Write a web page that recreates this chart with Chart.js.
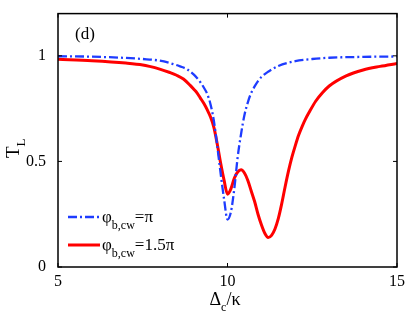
<!DOCTYPE html>
<html>
<head>
<meta charset="utf-8">
<script src="https://cdn.jsdelivr.net/npm/chart.js@4/dist/chart.umd.min.js"></script>
<style>
  html, body { margin: 0; padding: 0; background: #fff; }
  #wrap { width: 409px; height: 317px; }
</style>
</head>
<body>
<div id="wrap"><canvas id="tl-chart"></canvas></div>
<script>
// values
const xTicks = [5, 10, 15]
const yTicks = [0, 0.5, 1]

const blueX = [5, 6, 7, 7.5, 8, 8.4, 8.6, 8.8, 9, 9.1, 9.2, 9.3, 9.4, 9.5, 9.6, 9.7, 9.8, 9.9, 10, 10.1, 10.2, 10.3, 10.4, 10.5, 10.6, 10.7, 10.8, 10.9, 11, 11.2, 11.5, 12, 12.5, 13, 14, 15]
const blueY = [0.998, 0.996, 0.99, 0.985, 0.977, 0.961, 0.95, 0.937, 0.912, 0.895, 0.875, 0.85, 0.82, 0.77, 0.69, 0.57, 0.44, 0.32, 0.225, 0.26, 0.37, 0.52, 0.63, 0.72, 0.78, 0.825, 0.855, 0.88, 0.9, 0.925, 0.952, 0.975, 0.985, 0.991, 0.995, 0.997]

const redX = [5, 6, 7, 7.5, 7.7, 8, 8.3, 8.5, 8.7, 8.9, 9, 9.1, 9.2, 9.3, 9.4, 9.5, 9.6, 9.7, 9.8, 9.9, 10, 10.1, 10.2, 10.3, 10.4, 10.5, 10.6, 10.7, 10.8, 10.9, 11, 11.1, 11.2, 11.3, 11.4, 11.5, 11.6, 11.7, 11.8, 11.9, 12, 12.1, 12.2, 12.3, 12.4, 12.6, 12.8, 13, 13.5, 14, 14.5, 15]
const redY = [0.984, 0.977, 0.966, 0.957, 0.95, 0.937, 0.921, 0.908, 0.89, 0.86, 0.843, 0.825, 0.8, 0.775, 0.745, 0.71, 0.66, 0.58, 0.49, 0.41, 0.345, 0.37, 0.42, 0.45, 0.46, 0.445, 0.41, 0.36, 0.31, 0.25, 0.2, 0.16, 0.14, 0.15, 0.18, 0.23, 0.3, 0.38, 0.455, 0.52, 0.575, 0.625, 0.665, 0.7, 0.73, 0.785, 0.825, 0.857, 0.905, 0.933, 0.95, 0.964]

const BLUE = 'rgb(30, 60, 255)'
const RED = 'rgb(255, 0, 0)'
const SERIF = '"Liberation Serif", "DejaVu Serif", serif'

function pairs(xs, ys) {
  return xs.map((x, i) => ({ x: x, y: ys[i] }))
}

// text with a subscript, returns end x
function subText(ctx, parts, x, y) {
  parts.forEach(p => {
    ctx.font = p.size + 'px ' + SERIF
    ctx.fillText(p.t, x, y + (p.dy || 0))
    x += ctx.measureText(p.t).width
  })
  return x
}

const framePlugin = {
  id: 'frame',
  afterDatasetsDraw(chart) {
    const ctx = chart.ctx
    const a = chart.chartArea
    const xs = chart.scales.x
    const ys = chart.scales.y
    ctx.save()
    ctx.strokeStyle = '#000'
    ctx.lineWidth = 1.5
    ctx.strokeRect(a.left, a.top, a.right - a.left, a.bottom - a.top)

    // inward ticks
    ctx.lineWidth = 1
    ctx.beginPath()
    xTicks.forEach(v => {
      const px = xs.getPixelForValue(v)
      ctx.moveTo(px, a.bottom); ctx.lineTo(px, a.bottom - 4)
      ctx.moveTo(px, a.top); ctx.lineTo(px, a.top + 4)
    })
    yTicks.forEach(v => {
      const py = ys.getPixelForValue(v)
      ctx.moveTo(a.left, py); ctx.lineTo(a.left + 4, py)
      ctx.moveTo(a.right, py); ctx.lineTo(a.right - 4, py)
    })
    ctx.stroke()

    ctx.fillStyle = '#000'
    ctx.textBaseline = 'alphabetic'
    ctx.textAlign = 'left'

    // panel label
    ctx.font = '17px ' + SERIF
    ctx.fillText('(d)', 75, 39)

    // legend
    const ds = chart.data.datasets
    const rows = [
      { d: ds[0], y: 217, rest: '=\u03c0' },
      { d: ds[1], y: 245, rest: '=1.5\u03c0' }
    ]
    rows.forEach(r => {
      ctx.save()
      ctx.strokeStyle = r.d.borderColor
      ctx.lineWidth = r.d.borderWidth
      ctx.setLineDash(r.d.borderDash || [])
      ctx.beginPath()
      ctx.moveTo(68, r.y); ctx.lineTo(100, r.y)
      ctx.stroke()
      ctx.restore()
      subText(ctx, [
        { t: '\u03c6', size: 17 },
        { t: 'b,cw', size: 12, dy: 7 },
        { t: r.rest, size: 17 }
      ], 102, r.y + 5)
    })

    // x title
    const cx = (a.left + a.right) / 2
    subText(ctx, [
      { t: '\u0394', size: 18 },
      { t: 'c', size: 12, dy: 6 },
      { t: '/\u03ba', size: 18 }
    ], cx - 18, 305)

    // y title
    ctx.translate(19, 150)
    ctx.rotate(-Math.PI / 2)
    subText(ctx, [
      { t: 'T', size: 19 },
      { t: 'L', size: 13, dy: 6 }
    ], -8, 0)
    ctx.restore()
  }
}

new Chart(document.getElementById('tl-chart'), {
  type: 'line',
  data: {
    datasets: [
      {
        label: 'phi_b,cw = pi',
        data: pairs(blueX, blueY),
        borderColor: BLUE,
        borderWidth: 2.3,
        borderDash: [9, 3, 2, 3],
        pointRadius: 0,
        cubicInterpolationMode: 'monotone',
        fill: false
      },
      {
        label: 'phi_b,cw = 1.5 pi',
        data: pairs(redX, redY),
        borderColor: RED,
        borderWidth: 3,
        pointRadius: 0,
        cubicInterpolationMode: 'monotone',
        fill: false
      }
    ]
  },
  options: {
    responsive: true,
    maintainAspectRatio: false,
    animation: false,
    layout: { padding: { left: 0, right: 12, top: 13, bottom: 0 } },
    plugins: {
      legend: { display: false },
      tooltip: { enabled: false }
    },
    scales: {
      x: {
        type: 'linear',
        min: 5,
        max: 15,
        afterBuildTicks: s => { s.ticks = xTicks.map(v => ({ value: v })) },
        afterFit: s => { s.height = 50 },
        grid: { display: false },
        border: { display: false },
        ticks: {
          color: '#000',
          padding: -3,
          maxRotation: 0,
          font: { family: SERIF, size: 16 }
        }
      },
      y: {
        min: 0,
        max: 1.2,
        afterBuildTicks: s => { s.ticks = yTicks.map(v => ({ value: v })) },
        afterFit: s => { s.width = 58 },
        grid: { display: false },
        border: { display: false },
        ticks: {
          color: '#000',
          padding: 4,
          font: { family: SERIF, size: 16 },
          callback: v => String(v)
        }
      }
    }
  },
  plugins: [framePlugin]
})
</script>
</body>
</html>
